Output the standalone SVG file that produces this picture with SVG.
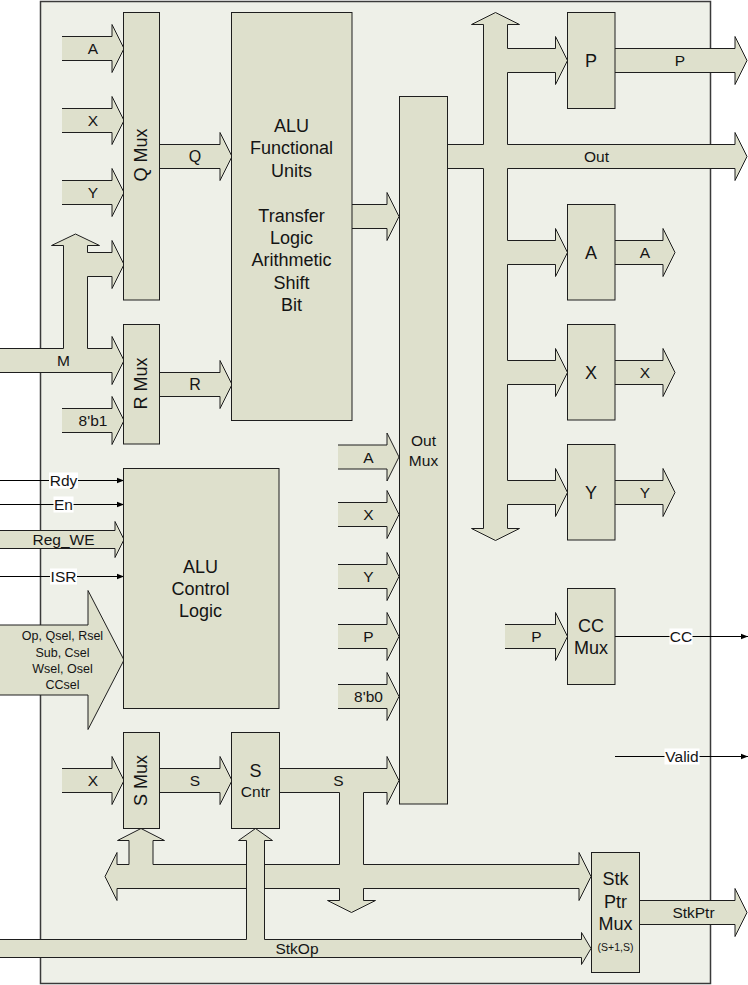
<svg xmlns="http://www.w3.org/2000/svg" width="748" height="985" viewBox="0 0 748 985">
<style>
.bg{fill:#eef0e8;stroke:#3a3a3a;stroke-width:1.5}
.blk{fill:#dee0cc;stroke:#1e1e1e;stroke-width:1}
.ar{fill:#dee0cc;stroke:#1e1e1e;stroke-width:1;stroke-linejoin:miter}
.ln{stroke:#000;stroke-width:1.2;fill:none;marker-end:url(#ah)}
.lb{fill:#ffffff}
text{font-family:"Liberation Sans",Arial,sans-serif;fill:#141414;text-anchor:middle}
.t18{font-size:18px}
.t16{font-size:16px}
.t15{font-size:15.5px}
.t12{font-size:12.5px}
.t10{font-size:10.5px}
</style>
<defs>
<marker id="ah" viewBox="0 0 10 10" refX="10" refY="5" markerWidth="7" markerHeight="7" markerUnits="userSpaceOnUse" orient="auto">
<path d="M0,1 L10,5 L0,9 z" fill="#000"/>
</marker>
</defs>
<rect width="748" height="985" fill="#ffffff"/>
<rect id="frame" class="bg" x="40.5" y="1.5" width="670" height="982"/>

<g id="connectors">
<!-- Q Mux inputs -->
<polyline class="ar" points="62,36.5 112,36.5 112,24.5 124,48.5 112,72.5 112,60.5 62,60.5"/>
<polyline class="ar" points="62,108.5 112,108.5 112,96.5 124,120.5 112,144.5 112,132.5 62,132.5"/>
<polyline class="ar" points="62,180.5 112,180.5 112,168.5 124,192.5 112,216.5 112,204.5 62,204.5"/>
<!-- M bus -->
<path class="ar" d="M0,348.5 H63.5 V245.5 H51.5 L75.5,234 L99.5,245.5 H87.5 V252.5 H112 V240.5 L124,264.5 L112,288.5 V276.5 H87.5 V348.5 H112 V336.5 L124,360.5 L112,384.5 V372.5 H0"/>
<polyline class="ar" points="62,408.5 112,408.5 112,396.5 124,420.5 112,444.5 112,432.5 62,432.5"/>
<!-- Q, R outputs -->
<polyline class="ar" points="159,144.5 220,144.5 220,132.5 232,156.5 220,180.5 220,168.5 159,168.5"/>
<polyline class="ar" points="159,372.5 220,372.5 220,360.5 232,384.5 220,408.5 220,396.5 159,396.5"/>
<!-- ALU to Out Mux -->
<polyline class="ar" points="352,204.5 387,204.5 387,192.5 399,216.5 387,240.5 387,228.5 352,228.5"/>
<!-- Control inputs -->
<line class="ln" x1="0" y1="480.5" x2="124" y2="480.5"/>
<line class="ln" x1="0" y1="504.5" x2="124" y2="504.5"/>
<line class="ln" x1="0" y1="576.5" x2="124" y2="576.5"/>
<polyline class="ar" points="0,530.5 115,530.5 115,521.5 124,539.5 115,557.5 115,548.5 0,548.5"/>
<polyline class="ar" points="0,625 88,625 88,590.5 124,660 88,729.5 88,695 0,695"/>
<!-- Out Mux inputs -->
<polyline class="ar" points="338,445 387,445 387,433 399,457 387,481 387,469 338,469"/>
<polyline class="ar" points="338,502.5 387,502.5 387,490.5 399,514.5 387,538.5 387,526.5 338,526.5"/>
<polyline class="ar" points="338,564.5 387,564.5 387,552.5 399,576.5 387,600.5 387,588.5 338,588.5"/>
<polyline class="ar" points="338,624.5 387,624.5 387,612.5 399,636.5 387,660.5 387,648.5 338,648.5"/>
<polyline class="ar" points="338,684.5 387,684.5 387,672.5 399,696.5 387,720.5 387,708.5 338,708.5"/>
<!-- Out bus -->
<path class="ar" d="M448,144.5 H483.5 V24.5 H471.5 L495.5,12.5 L519.5,24.5 H507.5 V48.5 H555.5 V36.5 L567.5,60.5 L555.5,84.5 V72.5 H507.5 V144.5 H735 V132.5 L747,156.5 L735,180.5 V168.5 H507.5 V240.5 H555.5 V228.5 L567.5,252.5 L555.5,276.5 V264.5 H507.5 V360.5 H555.5 V348.5 L567.5,372.5 L555.5,396.5 V384.5 H507.5 V480.5 H555.5 V468.5 L567.5,492.5 L555.5,516.5 V504.5 H507.5 V528.5 H519.5 L495.5,540.5 L471.5,528.5 H483.5 V168.5 H448"/>
<!-- Register outputs -->
<polyline class="ar" points="615,48.5 735,48.5 735,36.5 747,60.5 735,84.5 735,72.5 615,72.5"/>
<polyline class="ar" points="615,240.5 663,240.5 663,228.5 675,252.5 663,276.5 663,264.5 615,264.5"/>
<polyline class="ar" points="615,360.5 663,360.5 663,348.5 675,372.5 663,396.5 663,384.5 615,384.5"/>
<polyline class="ar" points="615,480.5 663,480.5 663,468.5 675,492.5 663,516.5 663,504.5 615,504.5"/>
<!-- CC Mux -->
<polyline class="ar" points="505,624.5 555.5,624.5 555.5,612.5 567.5,636.5 555.5,660.5 555.5,648.5 505,648.5"/>
<line class="ln" x1="615" y1="636.5" x2="748" y2="636.5"/>
<line class="ln" x1="615" y1="756.5" x2="748" y2="756.5"/>
<!-- S path -->
<polyline class="ar" points="62,768.5 112,768.5 112,756.5 124,780.5 112,804.5 112,792.5 62,792.5"/>
<polyline class="ar" points="159,768.5 220,768.5 220,756.5 232,780.5 220,804.5 220,792.5 159,792.5"/>
<path class="ar" d="M279,768.5 H387 V756.5 L399,780.5 L387,804.5 V792.5 H363.5 V864.5 H579 V852.5 L591,876.5 L579,900.5 V888.5 H363.5 V900.5 H375.5 L351.5,912.5 L327.5,900.5 H339.5 V888.5 H117 V900.5 L105,876.5 L117,852.5 V864.5 H129 V840.5 H117.5 L141,828.5 L164.5,840.5 H153 V864.5 H339.5 V792.5 H279"/>
<!-- StkOp -->
<path class="ar" d="M0,939.5 H246.5 V840.5 H238.5 L255.5,828.5 L272.5,840.5 H264.5 V939.5 H581.5 V932.5 L591,948.5 L581.5,964.5 V957.5 H0"/>
<!-- StkPtr -->
<polyline class="ar" points="639.5,900.5 735,900.5 735,888.5 747,912.5 735,936.5 735,924.5 639.5,924.5"/>

<!-- labels -->
<text class="t15" x="93" y="54">A</text>
<text class="t15" x="93" y="126">X</text>
<text class="t15" x="93" y="198">Y</text>
<text class="t15" x="63.5" y="366">M</text>
<text class="t15" x="93" y="426">8'b1</text>
<text class="t16" x="195" y="162.2">Q</text>
<text class="t16" x="195" y="390">R</text>
<rect class="lb" x="49" y="472.5" width="29" height="16"/>
<text class="t15" x="63.5" y="486">Rdy</text>
<rect class="lb" x="53.5" y="496.5" width="20" height="16"/>
<text class="t15" x="63.5" y="510">En</text>
<text class="t15" x="63.5" y="545">Reg_WE</text>
<rect class="lb" x="50" y="568.5" width="27" height="16"/>
<text class="t15" x="63.5" y="582">ISR</text>
<text class="t12"><tspan x="62.5" y="640.2">Op, Qsel, Rsel</tspan><tspan x="62.5" y="656.8">Sub, Csel</tspan><tspan x="62.5" y="672.8">Wsel, Osel</tspan><tspan x="62.5" y="688.5">CCsel</tspan></text>
<text class="t15" x="368.5" y="462.6">A</text>
<text class="t15" x="368.5" y="520">X</text>
<text class="t15" x="368.5" y="582">Y</text>
<text class="t15" x="368.5" y="641.6">P</text>
<text class="t15" x="368.5" y="702">8'b0</text>
<text class="t15" x="596.5" y="162">Out</text>
<text class="t15" x="680" y="66">P</text>
<text class="t15" x="645" y="258">A</text>
<text class="t15" x="645" y="378">X</text>
<text class="t15" x="645" y="498">Y</text>
<text class="t15" x="536.5" y="642">P</text>
<rect class="lb" x="669.5" y="628.5" width="23" height="16"/>
<text class="t15" x="681" y="642">CC</text>
<rect class="lb" x="664.5" y="748.5" width="35" height="16"/>
<text class="t15" x="682" y="762">Valid</text>
<text class="t15" x="93" y="786">X</text>
<text class="t15" x="195" y="786">S</text>
<text class="t15" x="338.5" y="786">S</text>
<text class="t15" x="297" y="954">StkOp</text>
<text class="t15" x="693.5" y="918">StkPtr</text>
</g>

<g id="qmux">
<rect class="blk" x="123.5" y="12.5" width="36" height="287.5"/>
<text class="t18" transform="translate(140,155) rotate(-90)" x="0" y="6.5">Q Mux</text>
</g>
<g id="rmux">
<rect class="blk" x="123.5" y="324.5" width="36" height="119.5"/>
<text class="t18" transform="translate(140,383.5) rotate(-90)" x="0" y="6.5">R Mux</text>
</g>
<g id="alu-fu">
<rect class="blk" x="231.5" y="12.5" width="120.5" height="408"/>
<text class="t18"><tspan x="291.5" y="132">ALU</tspan><tspan x="291.5" y="154.4">Functional</tspan><tspan x="291.5" y="176.8">Units</tspan><tspan x="291.5" y="221.6">Transfer</tspan><tspan x="291.5" y="244">Logic</tspan><tspan x="291.5" y="266.4">Arithmetic</tspan><tspan x="291.5" y="288.8">Shift</tspan><tspan x="291.5" y="311.2">Bit</tspan></text>
</g>
<g id="alu-ctrl">
<rect class="blk" x="123.5" y="468.5" width="155.5" height="240"/>
<text class="t18"><tspan x="200.5" y="572.5">ALU</tspan><tspan x="200.5" y="594.8">Control</tspan><tspan x="200.5" y="617">Logic</tspan></text>
</g>
<g id="outmux">
<rect class="blk" x="399.5" y="96.5" width="48" height="707.5"/>
<text class="t15"><tspan x="423.5" y="446.3">Out</tspan><tspan x="423.5" y="465.6">Mux</tspan></text>
</g>
<g id="reg-p">
<rect class="blk" x="567.5" y="12.5" width="47.5" height="96"/>
<text class="t18" x="591" y="66.5">P</text>
</g>
<g id="reg-a">
<rect class="blk" x="567.5" y="204.5" width="47.5" height="95.5"/>
<text class="t18" x="591" y="258.5">A</text>
</g>
<g id="reg-x">
<rect class="blk" x="567.5" y="324.5" width="47.5" height="95.5"/>
<text class="t18" x="591" y="378.5">X</text>
</g>
<g id="reg-y">
<rect class="blk" x="567.5" y="444.5" width="47.5" height="95.5"/>
<text class="t18" x="591" y="498.5">Y</text>
</g>
<g id="ccmux">
<rect class="blk" x="567.5" y="588.5" width="47.5" height="96"/>
<text class="t18"><tspan x="591" y="631.5">CC</tspan><tspan x="591" y="653.8">Mux</tspan></text>
</g>
<g id="smux">
<rect class="blk" x="123.5" y="732.5" width="36" height="96"/>
<text class="t18" transform="translate(140,780.5) rotate(-90)" x="0" y="6.5">S Mux</text>
</g>
<g id="scntr">
<rect class="blk" x="231.5" y="732.5" width="48" height="96"/>
<text class="t18" x="255.5" y="776.5">S</text>
<text class="t15" x="255.5" y="796.6">Cntr</text>
</g>
<g id="stkptrmux">
<rect class="blk" x="591.5" y="852.5" width="48" height="120"/>
<text class="t18"><tspan x="615.5" y="884.8">Stk</tspan><tspan x="615.5" y="908.2">Ptr</tspan><tspan x="615.5" y="929.8">Mux</tspan></text>
<text class="t10" x="615.5" y="951">(S+1,S)</text>
</g>
</svg>
